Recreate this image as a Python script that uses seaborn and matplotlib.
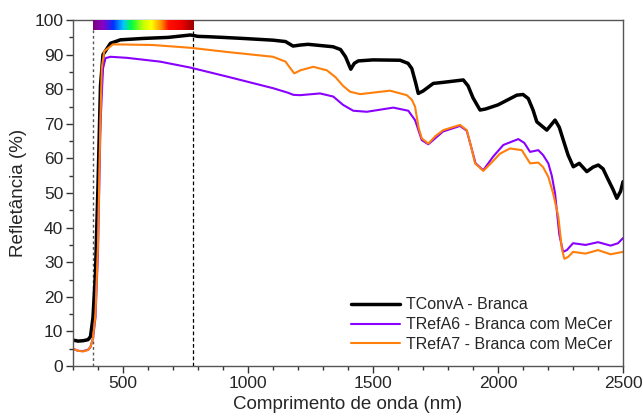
'''reflectance spectra of white roof tiles'''
import numpy as np
import pandas as pd
import seaborn as sns
import matplotlib
matplotlib.use('Agg')
import matplotlib.pyplot as plt
from matplotlib import ticker
from matplotlib.colors import LinearSegmentedColormap

#region data
wl_conv = [300, 320, 340, 360, 370, 380, 390, 400, 410, 420, 450, 490, 580, 680, 770, 800, 840,
           900, 980, 1100, 1150, 1180, 1210, 1240, 1340, 1370, 1390, 1411, 1425, 1441, 1500, 1608,
           1640, 1655, 1670, 1681, 1700, 1741, 1780, 1861, 1880, 1900, 1928, 1950, 2000, 2075, 2100,
           2121, 2140, 2155, 2195, 2228, 2245, 2261, 2280, 2301, 2325, 2355, 2380, 2401, 2420, 2435,
           2460, 2475, 2490, 2500]
r_conv = [7.5, 7.2, 7.3, 7.6, 8.5, 14, 27, 52, 81, 90, 93.3, 94.3, 94.7, 95.0, 95.7, 95.3, 95.2,
          95.0, 94.7, 94.2, 93.8, 92.5, 92.8, 93.0, 92.3, 91.5, 89.4, 85.8, 87.5, 88.2, 88.5, 88.4,
          87.5, 86.0, 82.0, 78.8, 79.5, 81.7, 82.0, 82.7, 81.0, 77.5, 74.0, 74.3, 75.5, 78.3, 78.5,
          77.3, 74.0, 70.6, 68.2, 71.1, 69.0, 65.3, 61.0, 57.6, 58.6, 56.2, 57.5, 58.1, 57.0, 54.7,
          51.0, 48.5, 50.5, 53.3]

wl_a6 = [300, 320, 340, 360, 370, 380, 390, 400, 410, 420, 430, 450, 515, 648, 768, 915, 1101,
         1160, 1181, 1208, 1288, 1341, 1380, 1421, 1475, 1581, 1641, 1668, 1695, 1721, 1780, 1848,
         1875, 1890, 1910, 1941, 1980, 2021, 2081, 2105, 2128, 2161, 2180, 2201, 2215, 2228, 2245,
         2260, 2275, 2300, 2350, 2400, 2450, 2480, 2500]
r_a6 = [5.0, 4.4, 4.3, 4.7, 5.5, 8, 14, 33, 70, 86, 89, 89.4, 89.1, 88.0, 86.3, 83.7, 80.3,
        79.0, 78.4, 78.3, 78.8, 77.9, 75.5, 73.8, 73.5, 74.7, 73.8, 71.1, 65.3, 64.1, 67.8, 69.4,
        68.0, 64.0, 58.6, 56.6, 60.5, 63.9, 65.6, 64.5, 61.9, 62.4, 61.0, 58.6, 55.0, 49.9, 38.0,
        33.0, 33.5, 35.5, 35.0, 35.8, 34.8, 35.5, 37.0]

wl_a7 = [300, 320, 340, 360, 370, 380, 390, 400, 410, 415, 425, 460, 620, 770, 915, 1100, 1150,
         1170, 1185, 1210, 1261, 1315, 1350, 1380, 1408, 1448, 1568, 1635, 1655, 1668, 1682, 1695,
         1721, 1750, 1781, 1848, 1875, 1890, 1908, 1941, 1970, 2008, 2048, 2095, 2128, 2161, 2180,
         2201, 2220, 2241, 2255, 2265, 2280, 2300, 2350, 2400, 2450, 2500]
r_a7 = [5.0, 4.4, 4.2, 4.6, 5.5, 8, 15, 35, 72, 86, 91, 93.0, 92.8, 92.0, 90.8, 89.4, 88.0,
        86.0, 84.6, 85.5, 86.5, 85.5, 83.5, 81.0, 79.3, 78.6, 79.6, 78.3, 77.0, 75.0, 69.0, 65.8,
        64.3, 66.5, 68.2, 69.7, 68.2, 64.0, 58.6, 56.4, 58.5, 61.4, 62.9, 62.4, 58.6, 58.8, 57.5,
        54.7, 50.0, 43.2, 34.0, 31.0, 31.5, 33.0, 32.5, 33.5, 32.3, 33.0]

labels = ['TConvA - Branca', 'TRefA6 - Branca com MeCer', 'TRefA7 - Branca com MeCer']
colors = ['#000000', '#8a00ff', '#ff7f0a']
visible = (380, 780)
#endregion

sns.set_style('ticks')
plt.rcParams['font.family'] = ['Liberation Sans', 'DejaVu Sans']

df = pd.concat([
    pd.DataFrame({'wl': wl_conv, 'r': r_conv, 'amostra': labels[0]}),
    pd.DataFrame({'wl': wl_a6, 'r': r_a6, 'amostra': labels[1]}),
    pd.DataFrame({'wl': wl_a7, 'r': r_a7, 'amostra': labels[2]}),
])

fig = plt.figure(figsize=(6.43, 4.19), dpi=100)
ax = fig.add_axes([0.1135, 0.1265, 0.8555, 0.8255])

sns.lineplot(data=df, x='wl', y='r', hue='amostra', palette=colors, ax=ax, estimator=None,
             sort=False, linewidth=1.5)
ax.lines[0].set_linewidth(2.5)

# visible range: dashed lines + spectrum strip
ax.plot([visible[0]] * 2, [0, 97.3], color='#555555', ls=(0, (2, 2)), lw=1, zorder=1)
ax.plot([visible[1]] * 2, [0, 97.3], color='black', ls=(0, (3, 2)), lw=0.9, zorder=1)
spec = LinearSegmentedColormap.from_list('spec', [
    (0.0, '#7a007a'), (0.1, '#8a00c8'), (0.2, '#0030ff'), (0.3, '#00c8ff'),
    (0.38, '#00ff40'), (0.5, '#c8ff00'), (0.58, '#ffff00'), (0.68, '#ff8c00'),
    (0.75, '#ff1000'), (0.88, '#ee0000'), (1.0, '#9a0000')])
ax.imshow(np.linspace(0, 1, 256)[None, :], cmap=spec, aspect='auto',
          extent=[visible[0], visible[1], 97.2, 100], zorder=3)

ax.set_xlim(300, 2500)
ax.set_ylim(0, 100)
ax.xaxis.set_major_locator(ticker.MultipleLocator(500))
ax.xaxis.set_minor_locator(ticker.MultipleLocator(100))
ax.yaxis.set_major_locator(ticker.MultipleLocator(10))
ax.yaxis.set_minor_locator(ticker.MultipleLocator(5))
ax.tick_params(which='major', length=5, width=1, labelsize=12.5, color='#333333', pad=2)
ax.tick_params(which='minor', length=3, width=1, color='#333333')
for s in ax.spines.values():
    s.set_visible(True)
    s.set_color('#555555')
    s.set_linewidth(1)

ax.set_xlabel('Comprimento de onda (nm)', fontsize=13.5, labelpad=4)
ax.set_ylabel('Refletância (%)', fontsize=13.5, labelpad=5)

leg = ax.legend(loc='lower left', bbox_to_anchor=(0.485, 0.008), frameon=False, fontsize=11.5,
                handlelength=3.1, handletextpad=0.35, labelspacing=0.3, borderpad=0.2)
for h, c in zip(leg.get_lines(), colors):
    h.set_color(c)
leg.get_lines()[0].set_linewidth(2.5)

fig.savefig('out.png', dpi=100)
